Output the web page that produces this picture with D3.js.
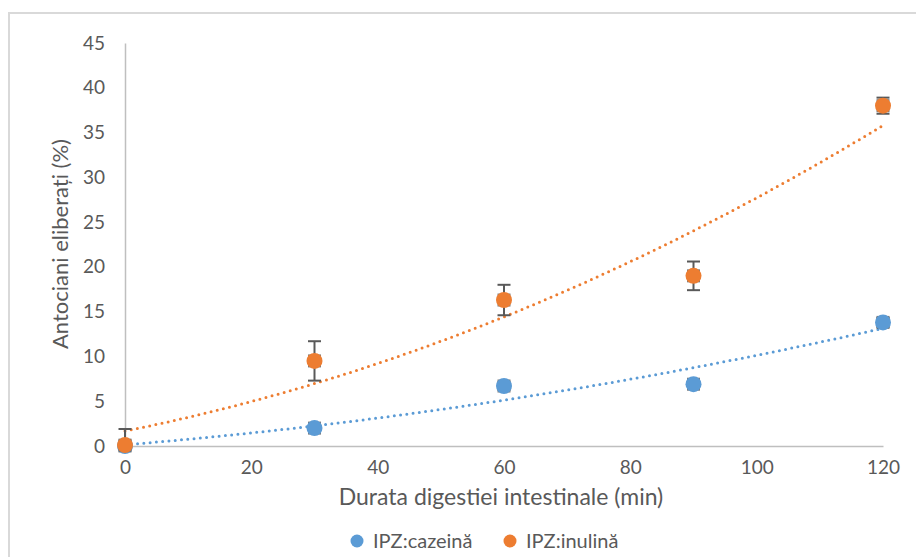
<!DOCTYPE html>
<html><head><meta charset="utf-8">
<script src="https://cdn.jsdelivr.net/npm/d3@7"></script>
<style>body{margin:0;background:#fff}svg{display:block}text{font-family:Lato,"Open Sans",sans-serif}</style>
</head><body>
<svg id="c" width="916" height="557"></svg>
<script>
const times = [0, 30, 60, 90, 120];
const cazeina = [0, 2.0, 6.7, 6.9, 13.8];
const cazeinaErr = [0.3, 0.3, 0.4, 0.4, 0.5];
const inulina = [0.1, 9.5, 16.3, 19.0, 38.0];
const inulinaErr = [1.8, 2.2, 1.7, 1.6, 0.9];
const xTicks = [0, 20, 40, 60, 80, 100, 120];
const yTicks = [0, 5, 10, 15, 20, 25, 30, 35, 40, 45];
const seriesNames = ["IPZ:cazeină", "IPZ:inulină"];
const colors = ["#5B9BD5", "#ED7D31"];

const svg = d3.select("#c");
svg.append("path").attr("d","M9,557 V13 H916").attr("fill","none").attr("stroke","#D9D9D9").attr("stroke-width",2);

const x = d3.scaleLinear().domain([0,120]).range([125,883]);
const y = d3.scaleLinear().domain([0,45]).range([446,43]);

svg.append("clipPath").attr("id","plotclip").append("rect").attr("x",100).attr("y",30).attr("width",810).attr("height",416);

const yAxis = svg.append("g").attr("transform","translate(125,0)").call(d3.axisLeft(y).tickValues(yTicks).tickSize(0).tickPadding(20));
yAxis.select(".domain").attr("stroke","#BFBFBF").attr("stroke-width",1.5);
yAxis.selectAll("text").attr("fill","#595959").style("font-size","19px");
const xAxis = svg.append("g").attr("transform","translate(0,446)").call(d3.axisBottom(x).tickValues(xTicks).tickSize(0).tickPadding(15));
xAxis.select(".domain").attr("stroke","#BFBFBF").attr("stroke-width",1.5);
xAxis.selectAll("text").attr("fill","#595959").style("font-size","19px");

svg.append("text").attr("x",501).attr("y",505).attr("text-anchor","middle").attr("fill","#595959").style("font-size","23px").text("Durata digestiei intestinale (min)");
svg.append("text").attr("transform","translate(68,244) rotate(-90)").attr("text-anchor","middle").attr("fill","#595959").style("font-size","22px").text("Antociani eliberați (%)");

function quadFit(xs, ys){
  let S=[0,0,0,0,0], T=[0,0,0];
  xs.forEach((xv,i)=>{let p=1;for(let k=0;k<5;k++){S[k]+=p;if(k<3)T[k]+=p*ys[i];p*=xv;}});
  const A=[[S[0],S[1],S[2],T[0]],[S[1],S[2],S[3],T[1]],[S[2],S[3],S[4],T[2]]];
  for(let i=0;i<3;i++){for(let j=i+1;j<3;j++){const f=A[j][i]/A[i][i];for(let k=i;k<4;k++)A[j][k]-=f*A[i][k];}}
  const c=[0,0,0];
  for(let i=2;i>=0;i--){let s=A[i][3];for(let k=i+1;k<3;k++)s-=A[i][k]*c[k];c[i]=s/A[i][i];}
  return xv=>c[0]+c[1]*xv+c[2]*xv*xv;
}
const data = [[cazeina,cazeinaErr],[inulina,inulinaErr]];
const line = d3.line().x(d=>x(d[0])).y(d=>y(d[1]));
data.forEach(([vals],si)=>{
  const f = quadFit(times, vals);
  const pts = d3.range(0,120.01,1).map(t=>[t,f(t)]);
  svg.append("path").attr("d",line(pts)).attr("fill","none").attr("stroke",colors[si])
    .attr("stroke-width",3).attr("stroke-dasharray","0 6.3").attr("stroke-linecap","round");
});

data.forEach(([vals,errs],si)=>{
  const eg = svg.append("g").attr("clip-path","url(#plotclip)");
  const g = svg.append("g");
  times.forEach((t,i)=>{
    const cx=x(t), cy=y(vals[i]), y1=y(vals[i]+errs[i]), y2=y(vals[i]-errs[i]);
    eg.append("line").attr("x1",cx).attr("x2",cx).attr("y1",y1).attr("y2",y2).attr("stroke","#595959").attr("stroke-width",2);
    [y1,y2].forEach(yy=>eg.append("line").attr("x1",cx-6.5).attr("x2",cx+6.5).attr("y1",yy).attr("y2",yy).attr("stroke","#595959").attr("stroke-width",2));
    g.append("rect").attr("x",cx-6.5).attr("y",cy-6.5).attr("width",13).attr("height",13).attr("fill","#595959").attr("opacity",0.8);
    g.append("circle").attr("cx",cx).attr("cy",cy).attr("r",8).attr("fill",colors[si]);
  });
});

const leg = [[357,373],[510,526]];
seriesNames.forEach((n,i)=>{
  svg.append("circle").attr("cx",leg[i][0]).attr("cy",541).attr("r",6.5).attr("fill",colors[i]);
  svg.append("text").attr("x",leg[i][1]).attr("y",548).attr("fill","#595959").style("font-size","20px").text(n);
});
</script>
</body></html>
